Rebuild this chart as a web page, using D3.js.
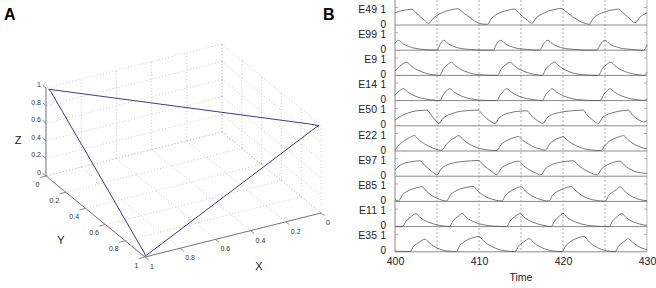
<!DOCTYPE html>
<html><head><meta charset="utf-8">
<script src="https://cdn.jsdelivr.net/npm/d3@7"></script>
<style>
html,body{margin:0;padding:0;background:#fff;}
svg{display:block;font-family:"Liberation Sans",Arial,Helvetica,sans-serif;}
</style></head>
<body><svg id="c" width="656" height="288"></svg>
<script>
// ---------- DATA ----------
const ticks3d = [0, 0.2, 0.4, 0.6, 0.8, 1];
const tickLabels3d = ["0", "0.2", "0.4", "0.6", "0.8", "1"];
// trajectory in (X,Y,Z)
const trajectory = [
  [0.99,0.01,0.99],[0.04,0.955,0.99],[0.005,0.99,0.985],[0.02,0.985,0.97],
  [0.97,0.99,0.02],[0.995,0.995,0.005],[0.99,0.975,0.02],
  [0.985,0.02,0.975],[0.99,0.01,0.99]
];
const timeDomain = [400, 430];
const timeTicks = [400, 410, 420, 430];
const gridTimes = [405, 410, 415, 420, 425];
const rowNames = ["E49","E99","E9","E14","E50","E22","E97","E85","E11","E35"];

const e49 = [[400,0.70],[400.5,0.78],[401,0.84],[401.5,0.88],[402,0.9],[402.5,0.7],[403,0.48],[403.5,0.27],[404,0.09],
 [404.5,0.36],[405,0.55],[405.5,0.68],[406,0.78],[406.5,0.85],[407,0.9],[407.5,0.93],
 [408,0.76],[408.5,0.57],[409,0.4],[409.5,0.22],[410,0.1],[410.5,0.05],[411,0.04],
 [411.5,0.38],[412,0.58],[412.5,0.7],[413,0.79],[413.6,0.86],[414.2,0.91],
 [414.7,0.7],[415.2,0.48],[415.8,0.25],[416.3,0.1],
 [416.8,0.4],[417.3,0.58],[417.8,0.7],[418.3,0.8],[418.8,0.87],[419.3,0.92],[419.8,0.95],
 [420.3,0.78],[420.8,0.6],[421.3,0.42],[421.8,0.27],[422.3,0.15],[422.8,0.07],[423.1,0.04],
 [423.6,0.38],[424.1,0.57],[424.6,0.69],[425.1,0.78],[425.6,0.84],[426.1,0.88],[426.6,0.91],
 [427.1,0.72],[427.6,0.5],[428.1,0.28],[428.6,0.12],
 [429.1,0.42],[429.6,0.6],[430,0.7]];
const e99 = [[400,0.38],[400.4,0.57],[401,0.36],[401.5,0.24],[402,0.15],[402.5,0.1],[403,0.06],[404,0.02],[405,0],
 [405.4,0.36],[405.8,0.57],[406.3,0.38],[406.8,0.25],[407.3,0.16],[408,0.09],[409,0.04],[410,0.01],[411.7,0],
 [412.1,0.36],[412.6,0.57],[413.1,0.38],[413.6,0.25],[414.1,0.16],[414.8,0.09],[415.8,0.04],[417.2,0],
 [417.7,0.36],[418.2,0.57],[418.7,0.38],[419.2,0.25],[419.7,0.16],[420.4,0.09],[421.4,0.04],[422.5,0.01],[424,0],
 [424.5,0.36],[425,0.57],[425.5,0.38],[426,0.25],[426.5,0.16],[427.2,0.09],[428.2,0.04],[429.6,0],[430,0.3]];
const e9 = [[400,0.25],[400.5,0.5],[401,0.68],[401.4,0.76],[401.9,0.55],[402.4,0.38],[403,0.24],[403.5,0.15],[404,0.08],[404.5,0.04],[405.3,0],
 [405.8,0.4],[406.3,0.63],[406.7,0.76],[407.2,0.55],[407.7,0.38],[408.3,0.24],[408.8,0.15],[409.5,0.07],[410.5,0.02],[412.2,0],
 [412.7,0.4],[413.2,0.63],[413.7,0.76],[414.2,0.55],[414.7,0.38],[415.3,0.24],[415.8,0.15],[416.5,0.07],[417.5,0],
 [418,0.4],[418.5,0.63],[419,0.76],[419.5,0.55],[420,0.38],[420.6,0.24],[421.1,0.15],[421.8,0.07],[422.8,0.02],[424.2,0],
 [424.7,0.4],[425.2,0.63],[425.7,0.76],[426.2,0.55],[426.7,0.38],[427.3,0.24],[427.8,0.15],[428.5,0.07],[429.6,0],[430,0.18]];
const e14 = [[400,0.3],[400.5,0.55],[401,0.68],[401.5,0.5],[402,0.35],[402.5,0.24],[403,0.16],[403.5,0.1],[404.2,0.05],[405,0.01],[405.3,0],
 [405.8,0.38],[406.2,0.58],[406.5,0.68],[407,0.5],[407.5,0.35],[408,0.24],[408.5,0.16],[409,0.1],[409.7,0.05],[410.7,0.01],[412.1,0],
 [412.6,0.38],[413,0.58],[413.3,0.68],[413.8,0.5],[414.3,0.35],[414.8,0.24],[415.3,0.16],[415.8,0.1],[416.5,0.05],[417.5,0],
 [418,0.38],[418.4,0.58],[418.7,0.68],[419.2,0.5],[419.7,0.35],[420.2,0.24],[420.7,0.16],[421.2,0.1],[422,0.05],[423,0.01],[424.4,0],
 [424.9,0.38],[425.3,0.58],[425.6,0.68],[426.1,0.5],[426.6,0.35],[427.1,0.24],[427.6,0.16],[428.1,0.1],[428.8,0.05],[429.6,0.01],[430,0.1]];
const e50 = [[400,0.32],[400.5,0.5],[401,0.63],[401.5,0.72],[402,0.8],[402.6,0.86],[403.2,0.88],[403.8,0.9],
 [404.3,0.62],[404.8,0.32],[405.2,0.13],[405.7,0.42],[406.2,0.58],[406.8,0.7],[407.5,0.8],[408.2,0.85],[409,0.88],[409.9,0.9],
 [410.4,0.65],[410.9,0.42],[411.4,0.25],[411.9,0.13],[412.4,0.45],[412.9,0.62],[413.5,0.72],[414.2,0.8],[415,0.84],[415.7,0.86],
 [416.2,0.6],[416.7,0.38],[417.2,0.22],[417.6,0.13],[418.1,0.45],[418.6,0.62],[419.2,0.72],[420,0.8],[420.8,0.85],[421.6,0.88],[422.4,0.9],
 [422.9,0.6],[423.4,0.38],[423.8,0.23],[424.2,0.13],[424.7,0.47],[425.2,0.63],[425.8,0.73],[426.5,0.82],[427.2,0.87],[427.8,0.9],
 [428.3,0.6],[428.8,0.4],[429.3,0.27],[429.6,0.22],[430,0.3]];
const e22 = [[400,0.05],[400.5,0.35],[401,0.55],[401.6,0.73],[402.3,0.88],[402.8,0.66],[403.3,0.47],[403.8,0.33],[404.3,0.21],[404.8,0.12],[405.4,0.05],[405.6,0.05],
 [406.1,0.38],[406.6,0.6],[407.1,0.76],[407.6,0.88],[408.1,0.66],[408.6,0.47],[409.1,0.33],[409.6,0.22],[410.1,0.14],[410.7,0.08],[411.5,0.03],[412.1,0.02],
 [412.6,0.35],[413.2,0.57],[413.9,0.72],[414.7,0.82],[415.2,0.62],[415.7,0.45],[416.2,0.31],[416.7,0.2],[417.3,0.11],[417.9,0.05],
 [418.4,0.4],[418.9,0.6],[419.5,0.74],[420,0.82],[420.5,0.62],[421,0.45],[421.5,0.32],[422,0.21],[422.6,0.12],[423.3,0.06],[424.5,0.02],
 [425,0.32],[425.5,0.55],[426.1,0.71],[426.6,0.8],[427.2,0.88],[427.7,0.66],[428.2,0.47],[428.7,0.33],[429.3,0.21],[430,0.12]];
const e97 = [[400,0.36],[400.5,0.6],[401,0.72],[401.6,0.8],[402.3,0.85],[403,0.88],[403.5,0.64],[404,0.42],[404.5,0.22],[405,0.08],
 [405.5,0.42],[406,0.6],[406.6,0.71],[407.4,0.8],[408.3,0.85],[409.1,0.88],[409.9,0.9],[410.5,0.65],[411,0.45],[411.6,0.24],[412.1,0.08],
 [412.6,0.42],[413.1,0.6],[413.8,0.75],[414.7,0.86],[415.2,0.64],[415.8,0.42],[416.6,0.22],[417.4,0.08],
 [417.9,0.42],[418.4,0.6],[419,0.72],[419.7,0.8],[420.4,0.85],[421.2,0.88],[421.8,0.64],[422.4,0.42],[423.1,0.24],[424.1,0.08],
 [424.6,0.42],[425.1,0.6],[425.6,0.72],[426.2,0.82],[426.8,0.86],[427.3,0.64],[427.8,0.45],[428.4,0.3],[429.2,0.2],[430,0.16]];
const e85 = [[400,0.1],[400.4,0.02],[400.9,0.38],[401.4,0.56],[402,0.7],[402.6,0.78],[403.2,0.84],[403.7,0.6],[404.2,0.4],[404.7,0.24],[405.3,0.12],[406.1,0.02],
 [406.6,0.38],[407.1,0.56],[407.7,0.7],[408.5,0.8],[409.3,0.86],[409.8,0.62],[410.3,0.42],[410.8,0.27],[411.4,0.15],[412,0.07],[412.7,0.02],
 [413.2,0.38],[413.7,0.56],[414.3,0.72],[415,0.84],[415.5,0.6],[416,0.4],[416.6,0.24],[417.3,0.11],[418.3,0.02],
 [418.8,0.38],[419.3,0.56],[419.9,0.7],[420.5,0.8],[421,0.85],[421.5,0.62],[422,0.42],[422.5,0.27],[423.1,0.15],[423.9,0.06],[425,0.01],
 [425.5,0.38],[426,0.56],[426.4,0.7],[426.8,0.84],[427.3,0.6],[427.8,0.4],[428.4,0.24],[429.1,0.11],[430,0.04]];
const e11 = [[400,0],[400.9,0],[401.3,0.3],[401.8,0.52],[402.5,0.74],[403,0.52],[403.5,0.36],[404,0.25],[404.6,0.15],[405.3,0.07],[406,0.02],[406.5,0],
 [406.9,0.32],[407.4,0.55],[408,0.74],[408.5,0.52],[409,0.36],[409.5,0.25],[410.1,0.15],[410.8,0.08],[411.7,0.03],[413.3,0],
 [413.7,0.32],[414.2,0.55],[414.9,0.74],[415.4,0.52],[415.9,0.36],[416.4,0.25],[417,0.15],[417.7,0.07],[418.6,0],
 [419,0.32],[419.5,0.56],[420,0.76],[420.5,0.53],[421,0.37],[421.5,0.26],[422.1,0.16],[422.8,0.08],[423.8,0.03],[425.5,0],
 [425.9,0.32],[426.4,0.55],[427,0.74],[427.5,0.52],[428,0.36],[428.5,0.25],[429.1,0.15],[430,0.07]];
const e35 = [[400,0.03],[401.8,0.02],[402.2,0.3],[402.8,0.52],[403.6,0.72],[404.1,0.5],[404.6,0.33],[405.1,0.2],[405.6,0.11],[406.3,0.04],[407.3,0.01],
 [407.7,0.35],[408.2,0.56],[408.8,0.72],[409.4,0.82],[410,0.88],[410.5,0.64],[411,0.45],[411.5,0.31],[412,0.2],[412.6,0.1],[413.4,0.04],[414.3,0.01],
 [414.7,0.32],[415.3,0.56],[416,0.75],[416.5,0.53],[417,0.36],[417.5,0.23],[418.1,0.12],[418.8,0.05],[419.9,0.01],
 [420.3,0.32],[420.8,0.55],[421.4,0.72],[422,0.83],[422.5,0.88],[423,0.62],[423.5,0.42],[424,0.26],[424.5,0.15],[425.2,0.06],[426.2,0.01],
 [426.6,0.32],[427.2,0.56],[427.8,0.75],[428.3,0.53],[428.8,0.36],[429.3,0.23],[430,0.12]];
const rowSeries = [e49, e99, e9, e14, e50, e22, e97, e85, e11, e35];

// ---------- DRAW ----------
const svg = d3.select("#c");
const FONT = '"Liberation Sans",Arial,Helvetica,sans-serif';

// Panel labels
svg.append("text").attr("x",4).attr("y",20).attr("font-size",16).attr("font-weight","bold").text("A");
svg.append("text").attr("x",323).attr("y",20).attr("font-size",16).attr("font-weight","bold").text("B");

// ---- Panel A: 3D projection ----
const sX = d3.scaleLinear().domain([0,1]).range([0,1]);
const sY = d3.scaleLinear().domain([0,1]).range([0,1]);
const sZ = d3.scaleLinear().domain([0,1]).range([0,1]);
const O = [222,132], EX = [-176,44], EY = [99,81], EZ = [0,-88];
function proj(x,y,z){
  const a=sX(x), b=sY(y), c=sZ(z);
  return [O[0]+EX[0]*a+EY[0]*b+EZ[0]*c, O[1]+EX[1]*a+EY[1]*b+EZ[1]*c];
}
const gA = svg.append("g");
const gridLines = [];
ticks3d.forEach(t=>{
  gridLines.push([[t,0,0],[t,1,0]]); gridLines.push([[0,t,0],[1,t,0]]);
  gridLines.push([[0,t,0],[0,t,1]]); gridLines.push([[0,0,t],[0,1,t]]);
  gridLines.push([[t,0,0],[t,0,1]]); gridLines.push([[0,0,t],[1,0,t]]);
});
gA.selectAll("line.grid").data(gridLines).join("line").attr("class","grid")
  .attr("x1",d=>proj(...d[0])[0]).attr("y1",d=>proj(...d[0])[1])
  .attr("x2",d=>proj(...d[1])[0]).attr("y2",d=>proj(...d[1])[1])
  .attr("stroke","#bdbdbd").attr("stroke-width",0.8).attr("stroke-dasharray","1,2.2");

const axCol = "#7a7a7a";
const axes = [[[1,0,0],[1,0,1]],[[1,0,0],[1,1,0]],[[1,1,0],[0,1,0]]];
gA.selectAll("line.ax").data(axes).join("line").attr("class","ax")
  .attr("x1",d=>proj(...d[0])[0]).attr("y1",d=>proj(...d[0])[1])
  .attr("x2",d=>proj(...d[1])[0]).attr("y2",d=>proj(...d[1])[1])
  .attr("stroke",axCol).attr("stroke-width",1);
const tk = 0.035;
ticks3d.forEach((t,i)=>{
  const zt=[proj(1,0,t),proj(1,-tk,t)];
  const yt=[proj(1,t,0),proj(1+tk,t,0)];
  const xt=[proj(t,1,0),proj(t,1+tk,0)];
  [zt,yt,xt].forEach(p=>gA.append("line").attr("x1",p[0][0]).attr("y1",p[0][1]).attr("x2",p[1][0]).attr("y2",p[1][1]).attr("stroke",axCol).attr("stroke-width",0.9));
  const pz=proj(1,0,t);
  gA.append("text").attr("x",pz[0]-5).attr("y",pz[1]-1).attr("text-anchor","end").attr("font-size",7).attr("fill","#333").text(tickLabels3d[i]);
  const py=proj(1,t,0);
  gA.append("text").attr("x",py[0]-6.5).attr("y",py[1]+10.5).attr("text-anchor","end").attr("font-size",7).attr("fill","#333").text(tickLabels3d[i]);
  const px=proj(t,1,0);
  gA.append("text").attr("x",px[0]+5).attr("y",px[1]+12).attr("text-anchor","start").attr("font-size",7).attr("fill","#333").text(tickLabels3d[i]);
});
gA.append("text").attr("x",18).attr("y",144).attr("text-anchor","middle").attr("font-size",11).attr("fill","#222").text("Z");
gA.append("text").attr("x",61).attr("y",244).attr("text-anchor","middle").attr("font-size",11).attr("fill","#222").text("Y");
gA.append("text").attr("x",259).attr("y",270).attr("text-anchor","middle").attr("font-size",11).attr("fill","#222").text("X");
gA.append("path").datum(trajectory)
  .attr("d", d3.line().x(d=>proj(...d)[0]).y(d=>proj(...d)[1]))
  .attr("fill","none").attr("stroke","#3a3c8a").attr("stroke-width",1);

// ---- Panel B ----
const x = d3.scaleLinear().domain(timeDomain).range([395,647]);
const row0 = 25, rowH = 25.2, unit = 17.5;
const gB = svg.append("g");
gB.selectAll("line.vg").data(gridTimes).join("line")
  .attr("x1",d=>x(d)).attr("x2",d=>x(d)).attr("y1",0).attr("y2",row0+rowH*9)
  .attr("stroke","#9a9a9a").attr("stroke-width",0.8).attr("stroke-dasharray","2,2");
gB.append("line").attr("x1",x(400)).attr("x2",x(400)).attr("y1",0).attr("y2",row0+rowH*9).attr("stroke","#888").attr("stroke-width",1);
gB.append("line").attr("x1",x(430)).attr("x2",x(430)).attr("y1",0).attr("y2",row0+rowH*9).attr("stroke","#bbb").attr("stroke-width",1);

rowNames.forEach((name,i)=>{
  const base = row0 + rowH*i;
  const y = d3.scaleLinear().domain([0,1]).range([base, base-unit]);
  gB.append("line").attr("x1",x(400)).attr("x2",x(430)).attr("y1",y(0)).attr("y2",y(0)).attr("stroke","#8a8a8a").attr("stroke-width",1);
  gB.append("line").attr("x1",x(400)).attr("x2",x(400)+3).attr("y1",y(1)).attr("y2",y(1)).attr("stroke","#999").attr("stroke-width",0.8);
  gB.append("line").attr("x1",x(430)-3).attr("x2",x(430)).attr("y1",y(1)).attr("y2",y(1)).attr("stroke","#999").attr("stroke-width",0.8);
  gB.append("path").datum(rowSeries[i])
    .attr("d", d3.line().x(d=>x(d[0])).y(d=>y(d[1])).curve(d3.curveMonotoneX))
    .attr("fill","none").attr("stroke","#555").attr("stroke-width",0.8);
  gB.append("text").attr("x",377).attr("y",y(1)+5).attr("text-anchor","end").attr("font-size",10.5).attr("fill","#222").text(name);
  gB.append("text").attr("x",386).attr("y",y(1)+5).attr("text-anchor","end").attr("font-size",10).attr("fill","#222").text("1");
  gB.append("text").attr("x",386).attr("y",y(0)+2.5).attr("text-anchor","end").attr("font-size",10).attr("fill","#222").text("0");
});
const axisG = gB.append("g").attr("transform",`translate(0,${row0+rowH*9})`)
  .call(d3.axisBottom(x).tickValues(timeTicks).tickSize(0).tickPadding(6).tickFormat(d3.format("d")));
axisG.select(".domain").remove();
axisG.selectAll("text").attr("font-size",10.5).attr("fill","#222").attr("font-family",FONT);
gB.append("text").attr("x",x(415)).attr("y",281).attr("text-anchor","middle").attr("font-size",10.5).attr("fill","#222").text("Time");
</script>
</body></html>
